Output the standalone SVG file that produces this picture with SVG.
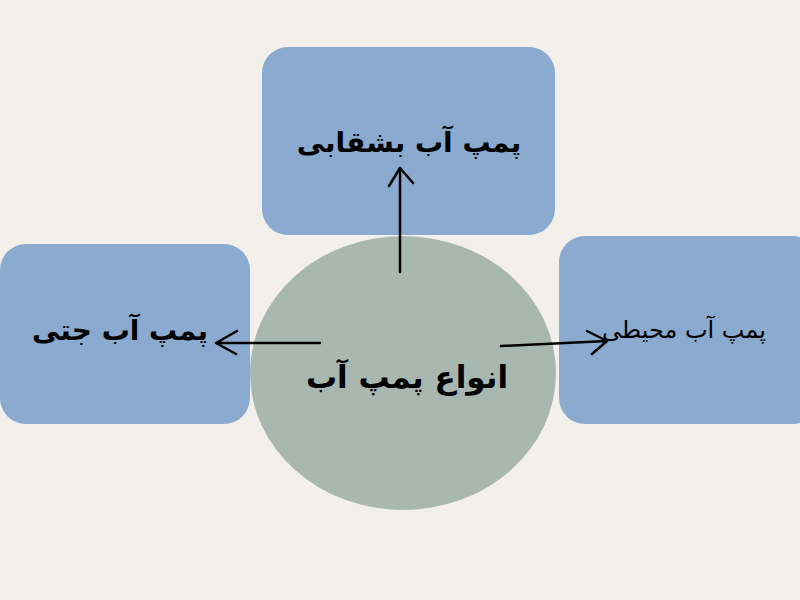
<svg xmlns="http://www.w3.org/2000/svg" width="800" height="600" viewBox="0 0 800 600">
<style>
.box{fill:#8aabcf}
.ell{fill:#a9b7b1}
.t{font-family:"DejaVu Sans","Noto Sans",sans-serif;fill:#000;text-anchor:middle;direction:rtl}
.b{font-weight:bold;font-size:28px}
.n{font-size:24px}
.c{stroke:#000;stroke-width:2.5;fill:none;stroke-linecap:round;stroke-linejoin:round}
</style>
<rect width="800" height="600" fill="#f3f0eb"/>
<g id="center">
<ellipse class="ell" cx="403" cy="373" rx="153" ry="137"/>
<text class="t b" x="407" y="388" style="font-size:31px">انواع پمپ آب</text>
</g>
<g id="top">
<rect class="box" x="262" y="47" width="293" height="188" rx="26"/>
<text class="t b" x="409" y="152">پمپ آب بشقابی</text>
</g>
<g id="left">
<rect class="box" x="0" y="244" width="250" height="180" rx="26"/>
<text class="t b" x="120" y="340">پمپ آب جتی</text>
</g>
<g id="right">
<rect class="box" x="559" y="236" width="260" height="188" rx="26"/>
<text class="t n" x="684" y="338">پمپ آب محیطی</text>
</g>
<g id="connectors">
<path class="c" d="M400 272 L400 168 M389 186 L400 168 L413 183"/>
<path class="c" d="M320 343 L216 343 M237 331 L216 343 L236 354"/>
<path class="c" d="M501 346 L607 341 M587 331 L607 341 L592 354"/>
</g>
</svg>
